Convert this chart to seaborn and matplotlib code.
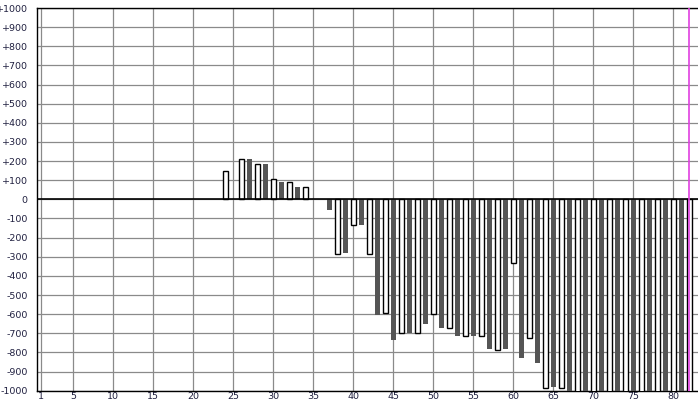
import matplotlib
matplotlib.use('Agg')
import matplotlib.pyplot as plt
import seaborn as sns
import pandas as pd

# Bar positions 1..82, even positions drawn white, odd ones dark gray
positions = list(range(1, 83))
values = ([0] * 23 +
          [150, 0, 210, 210, 185, 185, 108, 89, 89, 63, 63, 0, 0,
           -55, -283, -280, -136, -132, -283, -605, -595, -733, -701,
           -698, -701, -652, -600, -671, -674, -712, -716, -712, -716,
           -783, -786, -783, -335, -830, -723, -853, -986, -983, -986] +
          [-1100] * 16)
kinds = ['even' if p % 2 == 0 else 'odd' for p in positions]

xticks = [1] + list(range(5, 81, 5))
yticks = list(range(-1000, 1001, 100))
ylabels = [('+%d' % t if t > 0 else str(t)) for t in yticks]

df = pd.DataFrame({'x': positions, 'v': values, 'kind': kinds})

sns.set_style('white')
fig = plt.figure(figsize=(6.98, 4.01), dpi=100)
W, H = 698, 401
x0, x1 = 0.42, 83.5
y_top, y_bot = 8, 390.7
ax = fig.add_axes([36.7 / W, (H - y_bot) / H, (x1 - x0) * 8 / W, (y_bot - y_top) / H])

sns.barplot(data=df, x='x', y='v', hue='kind', native_scale=True, dodge=False,
            palette={'even': 'white', 'odd': '#555555'}, width=0.68,
            legend=False, ax=ax, zorder=3, linewidth=0)

for p in ax.patches:
    if p.get_height() == 0:
        p.set_visible(False)
        continue
    if p.get_facecolor()[0] > 0.9:
        p.set_edgecolor('black')
        p.set_linewidth(1.0)

ax.set_xlim(x0, x1)
ax.set_ylim(-1000, 1000)
ax.set_xticks(xticks)
ax.set_yticks(yticks)
ax.set_yticklabels(ylabels)
ax.grid(True, color='#8a8a8a', linewidth=0.9, zorder=0)
ax.set_axisbelow(True)
ax.axhline(0, color='black', linewidth=1.2, zorder=4)
ax.axvline(82, color='#e040e0', linewidth=1.2, zorder=5)
ax.tick_params(length=0, labelsize=6.8, labelcolor='#202040')
ax.tick_params(axis='y', pad=6.5)
ax.tick_params(axis='x', pad=1)
ax.set_xlabel('')
ax.set_ylabel('')
for s in ax.spines.values():
    s.set_color('black')
    s.set_linewidth(1.0)

fig.savefig('out.png', dpi=100)
